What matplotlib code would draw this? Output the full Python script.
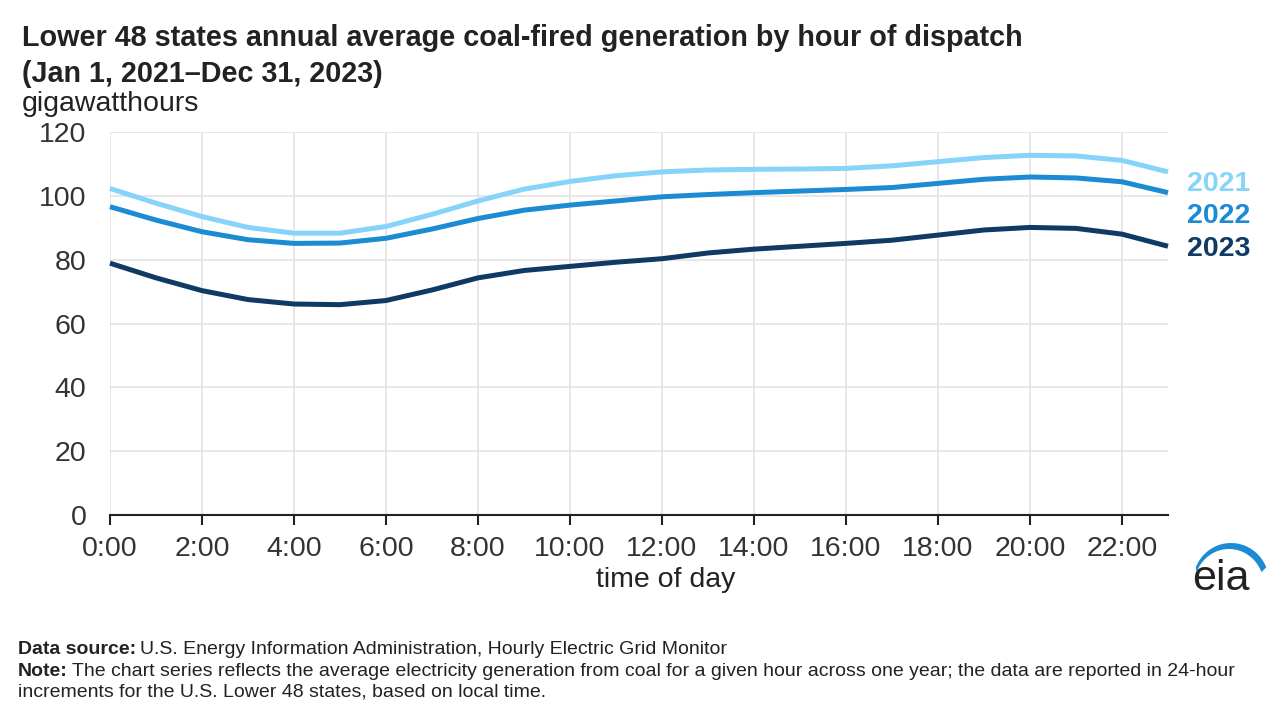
import matplotlib
matplotlib.use("Agg")
import matplotlib.pyplot as plt
from matplotlib.patches import Polygon
import numpy as np

plt.rcParams['font.family'] = ['Liberation Sans', 'DejaVu Sans']

hours = list(range(24))
tick_labels = ["0:00", "2:00", "4:00", "6:00", "8:00", "10:00", "12:00",
               "14:00", "16:00", "18:00", "20:00", "22:00"]
years = ["2021", "2022", "2023"]
gen_2021 = [102.3, 97.7, 93.5, 90.1, 88.3, 88.3, 90.4, 94.2, 98.4, 102.1, 104.5, 106.3,
            107.5, 108.1, 108.3, 108.4, 108.6, 109.4, 110.7, 112.0, 112.7, 112.5, 111.1, 107.5]
gen_2022 = [96.6, 92.4, 88.75, 86.25, 85.1, 85.2, 86.7, 89.6, 92.9, 95.5, 97.1, 98.4,
            99.7, 100.4, 101.0, 101.5, 102.0, 102.6, 103.9, 105.2, 105.9, 105.6, 104.4, 101.0]
gen_2023 = [78.9, 74.3, 70.3, 67.5, 66.1, 65.9, 67.2, 70.5, 74.3, 76.6, 77.9, 79.2,
            80.3, 82.1, 83.3, 84.2, 85.1, 86.1, 87.7, 89.3, 90.1, 89.8, 88.0, 84.2]
colors = ["#87d4fb", "#1b8bd3", "#0e3a63"]

W, H = 1280, 712
fig = plt.figure(figsize=(12.8, 7.12), dpi=100)
ax = fig.add_axes([110 / W, (H - 515) / H, (1168 - 110) / W, (515 - 132) / H])

for series, c in zip([gen_2021, gen_2022, gen_2023], colors):
    ax.plot(hours, series, color=c, lw=3.6, solid_capstyle='butt', zorder=3, clip_on=False)

ax.set_xlim(0, 23)
ax.set_ylim(0, 120)
ax.set_xticks(range(0, 24, 2))
ax.set_xticklabels(tick_labels)
ax.set_yticks(range(0, 121, 20))
ax.grid(True, color="#e3e3e3", lw=1.2)
ax.set_axisbelow(True)
for s in ["top", "right", "left"]:
    ax.spines[s].set_visible(False)
ax.spines["bottom"].set_color("#222222")
ax.spines["bottom"].set_linewidth(1.5)
ax.tick_params(axis='x', length=7, width=1.5, color="#222222", labelsize=20.5,
               labelcolor="#333333", pad=8)
ax.tick_params(axis='y', length=0, labelsize=20.5, labelcolor="#333333", pad=17)
ax.set_xlabel("time of day", fontsize=20.5, color="#222222")
ax.xaxis.set_label_coords((666 - 110) / (1168 - 110), -(580 - 515) / (515 - 132))
ax.xaxis.label.set_va('center')

# year labels at line ends
label_y = [184, 216, 249]
for yr, c, yp in zip(years, colors, label_y):
    fig.text(1187 / W, 1 - yp / H, yr, color=c, fontsize=20.5, fontweight='bold',
             va='center', ha='left')

fig.text(22 / W, 1 - 38 / H, "Lower 48 states annual average coal-fired generation by hour of dispatch",
         fontsize=20.7, fontweight='bold', color="#222222", va='center', ha='left')
fig.text(22 / W, 1 - 74 / H, "(Jan 1, 2021\u2013Dec 31, 2023)",
         fontsize=20.7, fontweight='bold', color="#222222", va='center', ha='left')
fig.text(22 / W, 1 - 104 / H, "gigawatthours", fontsize=20.5, color="#222222",
         va='center', ha='left')

# footer
foot_fam = ['Liberation Sans Narrow', 'Liberation Sans', 'DejaVu Sans']
fs = 14
t = fig.text(18 / W, 1 - 650 / H, "Data source:", fontsize=fs, fontweight='bold',
             color="#222222", va='center', ha='left', family=foot_fam)
fig.canvas.draw()
bb = t.get_window_extent()
fig.text((bb.x1 + 4) / W, 1 - 650 / H,
         "U.S. Energy Information Administration, Hourly Electric Grid Monitor",
         fontsize=fs, color="#222222", va='center', ha='left', family=foot_fam)
t2 = fig.text(18 / W, 1 - 671 / H, "Note:", fontsize=fs, fontweight='bold',
              color="#222222", va='center', ha='left', family=foot_fam)
fig.canvas.draw()
bb2 = t2.get_window_extent()
fig.text((bb2.x1 + 4) / W, 1 - 671 / H,
         "The chart series reflects the average electricity generation from coal for a given hour across one year; the data are reported in 24-hour",
         fontsize=fs, color="#222222", va='center', ha='left', family=foot_fam)
fig.text(18 / W, 1 - 692 / H, "increments for the U.S. Lower 48 states, based on local time.",
         fontsize=fs, color="#222222", va='center', ha='left', family=foot_fam)

# eia logo
fig.text(1221 / W, 1 - 579 / H, "eia", fontsize=31, color="#222222", va='center',
         ha='center')
lax = fig.add_axes([0, 0, 1, 1], zorder=5)
lax.set_xlim(0, W)
lax.set_ylim(H, 0)
lax.axis('off')
t_out = np.radians(np.linspace(158, 22, 60))
t_in = np.radians(np.linspace(22, 158, 60))
outer = np.column_stack([1231 + 38 * np.cos(t_out), 582 - 39 * np.sin(t_out)])
inner = np.column_stack([1229 + 35 * np.cos(t_in), 586 - 37 * np.sin(t_in)])
lax.add_patch(Polygon(np.vstack([outer, inner]), closed=True, color="#1b8bd3", lw=0))

fig.savefig("out.png", dpi=100, facecolor="white")
